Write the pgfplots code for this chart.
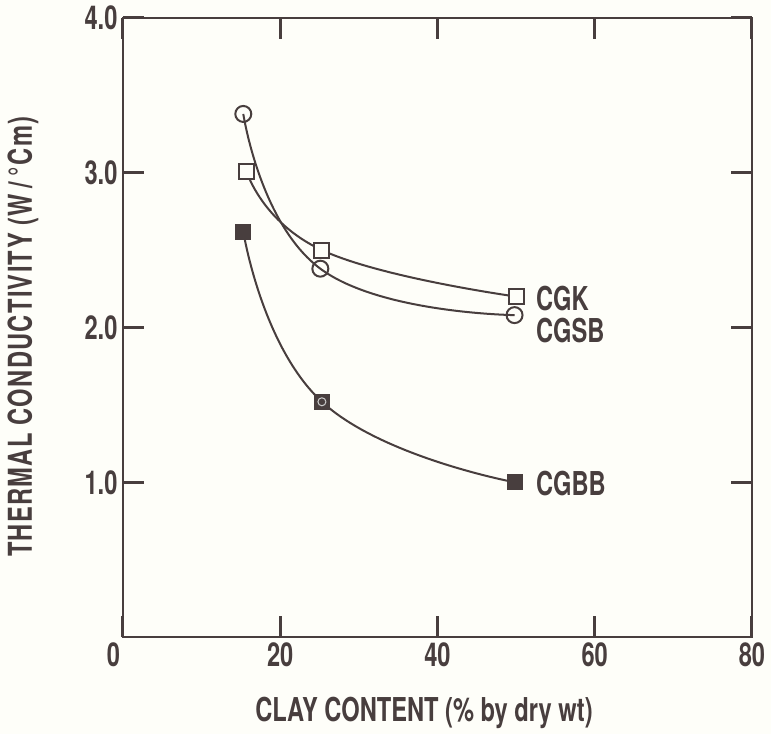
\documentclass[border=0pt]{standalone}
\usepackage{fontspec}
\setmainfont{TeX Gyre Heros}[FakeStretch=0.72]
\usepackage{pgfplots}
\pgfplotsset{compat=1.18}
\definecolor{ink}{RGB}{72,62,62}
\definecolor{paper}{RGB}{254,254,249}
\begin{document}
\begin{tikzpicture}
\fill[paper] (-123bp,-97bp) rectangle (648bp,637bp);
\begin{axis}[at={(0,0)}, anchor=south west, scale only axis,
  width=629bp, height=619bp,
  xmin=0, xmax=80, ymin=0, ymax=4,
  xtick={0,20,40,60,80},
  xticklabels={{\makebox[0pt][r]{0\hspace{3bp}}},20,40,60,80},
  ytick={1,2,3,4}, yticklabels={1.0,2.0,3.0,4.0},
  xtick pos=both, ytick pos=both,
  tick align=inside, major tick length=21bp,
  axis line style={ink, line width=2bp},
  xtick style={draw=ink, line width=3bp},
  ytick style={draw=ink, line width=3bp},
  ticklabel style={font=\fontsize{33}{38}\selectfont\bfseries, text=ink},
  xticklabel style={yshift=-2bp},
  yticklabel style={xshift=-2bp},
  xlabel={CLAY CONTENT (\% by dry wt)},
  ylabel={THERMAL CONDUCTIVITY (W\,/\,°Cm)},
  label style={font=\fontsize{33}{38}\selectfont\bfseries, text=ink},
  xlabel style={anchor=center, at={(axis description cs:0.4785,-0.123)}},
  ylabel style={anchor=center, rotate=0, at={(axis description cs:-0.159,0.485)},
    font=\fontsize{33}{38}\selectfont\bfseries\addfontfeature{LetterSpace=4}},
  clip=false,
]
\addplot[ink, line width=2bp, smooth, tension=0.8, mark=o, mark size=8bp,
  mark options={fill=paper, line width=2bp}]
  coordinates {(15.3,3.38) (25.1,2.38) (49.8,2.08)};
\addplot[ink, line width=2bp, smooth, tension=0.8, mark=square*, mark size=7.5bp,
  mark options={fill=paper, line width=2bp}]
  coordinates {(15.7,3.01) (25.3,2.50) (50.0,2.20)};
\addplot[ink, line width=2bp, smooth, tension=0.8, mark=square*, mark size=7.5bp,
  mark options={fill=ink, line width=1bp}]
  coordinates {(15.3,2.62) (25.3,1.52) (49.8,1.00)};
\addplot[only marks, mark=o, mark size=4bp, mark options={draw=gray!40, line width=1bp}]
  coordinates {(25.3,1.52)};
\node[anchor=west, text=ink, font=\fontsize{33}{38}\selectfont\bfseries] at (axis cs:52.1,2.19) {CGK};
\node[anchor=west, text=ink, font=\fontsize{33}{38}\selectfont\bfseries] at (axis cs:52.1,1.98) {CGSB};
\node[anchor=west, text=ink, font=\fontsize{33}{38}\selectfont\bfseries] at (axis cs:52.1,0.99) {CGBB};
\end{axis}
\pgfresetboundingbox
\path[use as bounding box] (-123bp,-97bp) rectangle (648bp,637bp);
\end{tikzpicture}
\end{document}
